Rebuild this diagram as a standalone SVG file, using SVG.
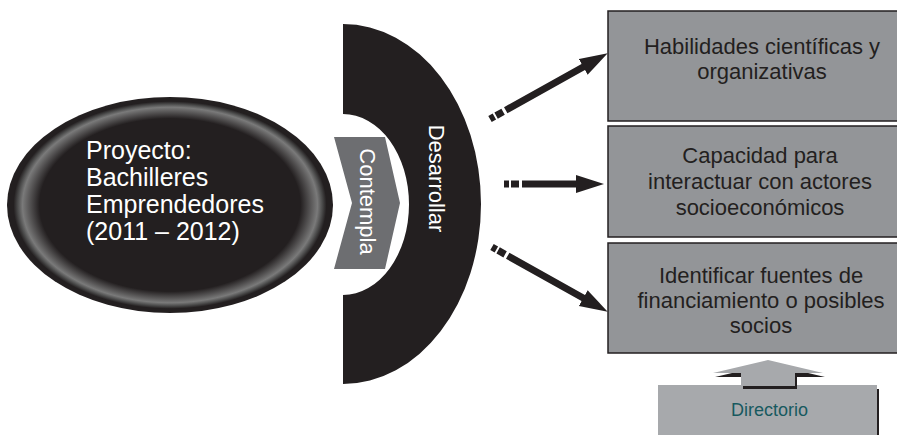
<svg xmlns="http://www.w3.org/2000/svg" width="897" height="435" viewBox="0 0 897 435">
<defs>
<style>
.t{font-family:"Liberation Sans",Arial,sans-serif;}
.wt{fill:#ffffff;font-size:22px;text-anchor:middle;}
.bx{fill:#939598;stroke:#231f20;stroke-width:1.5;}
.bt{fill:#231f20;font-size:22px;text-anchor:middle;}
.sh{fill:none;stroke:#231f20;stroke-width:7;stroke-dasharray:5 2 8 3 300;}
</style>
<radialGradient id="rim" cx="0.5" cy="0.5" r="0.5">
<stop offset="0" stop-color="#231f20"/>
<stop offset="0.80" stop-color="#231f20"/>
<stop offset="0.905" stop-color="#7a7a7a"/>
<stop offset="0.935" stop-color="#4a4a4a"/>
<stop offset="0.96" stop-color="#231f20"/>
<stop offset="1" stop-color="#231f20"/>
</radialGradient>
<marker id="ah" markerUnits="userSpaceOnUse" markerWidth="28" markerHeight="20" refX="2" refY="10" orient="auto" viewBox="0 0 28 20">
<path d="M0,1 L28,10 L0,19 Z" fill="#231f20"/>
</marker>
</defs>
<rect width="897" height="435" fill="#ffffff"/>

<g id="proyecto">
<ellipse cx="170" cy="205" rx="163" ry="108" fill="url(#rim)"/>
<text class="t" fill="#ffffff" font-size="25">
<tspan x="86" y="159">Proyecto:</tspan>
<tspan x="86" y="186">Bachilleres</tspan>
<tspan x="86" y="213">Emprendedores</tspan>
<tspan x="86" y="240">(2011 – 2012)</tspan>
</text>
</g>

<g id="desarrollar">
<path d="M343,24 A138,180 0 0 1 343,384 L343,295 A66,90.5 0 0 0 343,114 Z" fill="#231f20"/>
<text class="t wt" transform="translate(437,178.5) rotate(90)" x="0" y="8">Desarrollar</text>
</g>

<g id="contempla">
<polygon points="334,137 385,137 400,203 385,269 334,269 352,203" fill="#6d6e71"/>
<text class="t wt" transform="translate(368,201.5) rotate(90)" x="0" y="8">Contempla</text>
</g>

<g id="habilidades">
<rect class="bx" x="608" y="11" width="292" height="110"/>
<text class="t bt"><tspan x="762" y="54">Habilidades científicas y</tspan><tspan x="762" y="79">organizativas</tspan></text>
</g>

<g id="capacidad">
<rect class="bx" x="608" y="126" width="292" height="111"/>
<text class="t bt"><tspan x="760" y="163">Capacidad para</tspan><tspan x="760" y="189">interactuar con actores</tspan><tspan x="760" y="215">socioeconómicos</tspan></text>
</g>

<g id="identificar">
<rect class="bx" x="608" y="243" width="292" height="110"/>
<text class="t bt"><tspan x="761" y="283">Identificar fuentes de</tspan><tspan x="761" y="308">financiamiento o posibles</tspan><tspan x="761" y="333">socios</tspan></text>
</g>

<g id="directorio">
<rect x="877" y="389" width="2" height="50" fill="#231f20"/>
<rect x="658" y="385" width="219" height="55" fill="#a7a9ac"/>
<text class="t" x="769.5" y="416" font-size="18" fill="#17595f" text-anchor="middle">Directorio</text>
</g>

<g id="connectors">
<line class="sh" x1="490" y1="119" x2="585" y2="66" marker-end="url(#ah)"/>
<line class="sh" x1="504" y1="184" x2="578" y2="184" marker-end="url(#ah)"/>
<line class="sh" x1="492" y1="247" x2="585" y2="299" marker-end="url(#ah)"/>
<polygon points="770,364 825,377 797,377 797,389 743,389 743,377 715,377" fill="#231f20"/>
<polygon points="768,360 823,373 795,373 795,386 741,386 741,373 713,373" fill="#a7a9ac"/>
</g>
</svg>
